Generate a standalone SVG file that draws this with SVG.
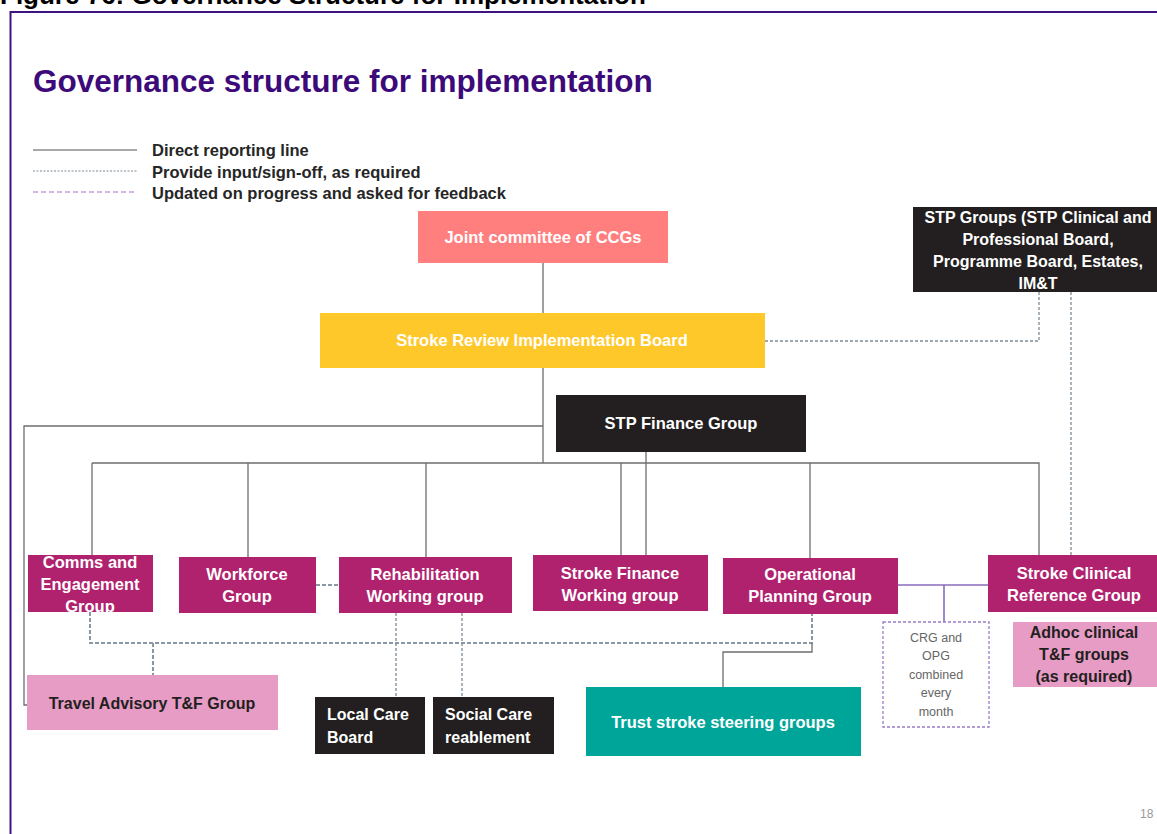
<svg xmlns="http://www.w3.org/2000/svg" width="1157" height="834" viewBox="0 0 1157 834">
<style>
  .t { font-family: "Liberation Sans", Arial, sans-serif; font-weight: bold; font-size: 16.5px; fill: #ffffff; text-anchor: middle; }
  .tl { font-family: "Liberation Sans", Arial, sans-serif; font-weight: bold; font-size: 16px; fill: #ffffff; text-anchor: start; }
  .td { font-family: "Liberation Sans", Arial, sans-serif; font-weight: bold; font-size: 16px; fill: #231f20; text-anchor: middle; }
  .leg { font-family: "Liberation Sans", Arial, sans-serif; font-weight: bold; font-size: 16.5px; fill: #262626; }
  .mag { fill: #b0226e; }
  .pink { fill: #e79cc5; }
  .blk { fill: #231f20; }
  .solid { stroke: #6d6d6d; stroke-width: 1.3; fill: none; }
  .dash { stroke: #7d8a96; stroke-width: 1.3; fill: none; stroke-dasharray: 3 2; }
  .dashb { stroke: #8a97a4; stroke-width: 2; fill: none; stroke-dasharray: 4 2; }
  .purp { stroke: #8a6bbd; stroke-width: 1.6; fill: none; }
</style>
<rect x="0" y="0" width="1157" height="834" fill="#ffffff"/>
<text x="0" y="4" font-family="Liberation Sans, Arial, sans-serif" font-weight="bold" font-size="26" fill="#000000">Figure 76: Governance Structure for Implementation</text>
<rect x="10.5" y="12" width="1200" height="900" fill="none" stroke="#3c1380" stroke-width="2"/>
<text x="33" y="92" font-family="Liberation Sans, Arial, sans-serif" font-weight="bold" font-size="31.5" fill="#3d0a7a">Governance structure for implementation</text>

<g id="legend">
  <line x1="33" y1="150" x2="137" y2="150" stroke="#555" stroke-width="1.2"/>
  <line x1="33" y1="171" x2="137" y2="171" stroke="#7d8a96" stroke-width="1.2" stroke-dasharray="2 1.5"/>
  <line x1="33" y1="192" x2="137" y2="192" stroke="#c3a0e0" stroke-width="1.3" stroke-dasharray="5 3"/>
  <text class="leg" x="152" y="156">Direct reporting line</text>
  <text class="leg" x="152" y="178">Provide input/sign-off, as required</text>
  <text class="leg" x="152" y="199">Updated on progress and asked for feedback</text>
</g>

<g id="connectors">
  <path class="solid" d="M543,263 V313"/>
  <path class="solid" d="M543,368 V463"/>
  <path class="solid" d="M543,426 H24 V705 H27"/>
  <path class="solid" d="M92,463 H1039 V555"/>
  <path class="solid" d="M92,463 V555"/>
  <path class="solid" d="M248,463 V557"/>
  <path class="solid" d="M426,463 V557"/>
  <path class="solid" d="M621,463 V555"/>
  <path class="solid" d="M646,452 V555"/>
  <path class="solid" d="M810,463 V558"/>
  <path class="dash" d="M765,341 H1039 V292"/>
  <path class="dash" d="M1071,292 V555"/>
  <path class="dashb" d="M316,585 H339"/>
  <path class="dashb" d="M90,612 V643 H812 V614"/>
  <path class="dashb" d="M153,643 V675"/>
  <path class="dash" d="M396,613 V697"/>
  <path class="dash" d="M462,613 V697"/>
  <path class="solid" d="M812,643 V652 H723 V687"/>
  <path class="purp" d="M898,585 H988"/>
  <path class="purp" d="M944,585 V622"/>
</g>

<g id="joint">
  <rect x="418" y="211" width="250" height="52" fill="#ff7f7f"/>
  <text class="t" x="543" y="243">Joint committee of CCGs</text>
</g>
<g id="srib">
  <rect x="320" y="313" width="445" height="55" fill="#ffc82a"/>
  <text class="t" x="542" y="346">Stroke Review Implementation Board</text>
</g>
<g id="stpgroups">
  <rect x="913" y="207" width="250" height="85" class="blk"/>
  <g style="font-size:16px">
  <text class="t" x="1038" y="223" style="font-size:16px">STP Groups (STP Clinical and</text>
  <text class="t" x="1038" y="245" style="font-size:16px">Professional Board,</text>
  <text class="t" x="1038" y="267" style="font-size:16px">Programme Board, Estates,</text>
  <text class="t" x="1038" y="289" style="font-size:16px">IM&amp;T</text>
  </g>
</g>
<g id="stpfinance">
  <rect x="556" y="395" width="250" height="57" class="blk"/>
  <text class="t" x="681" y="429">STP Finance Group</text>
</g>
<g id="comms">
  <rect x="28" y="555" width="125" height="57" class="mag"/>
  <text class="t" x="90" y="568">Comms and</text>
  <text class="t" x="90" y="590">Engagement</text>
  <text class="t" x="90" y="612">Group</text>
</g>
<g id="workforce">
  <rect x="179" y="557" width="137" height="56" class="mag"/>
  <text class="t" x="247" y="580">Workforce</text>
  <text class="t" x="247" y="602">Group</text>
</g>
<g id="rehab">
  <rect x="339" y="557" width="173" height="56" class="mag"/>
  <text class="t" x="425" y="580">Rehabilitation</text>
  <text class="t" x="425" y="602">Working group</text>
</g>
<g id="strokefinance">
  <rect x="533" y="555" width="175" height="56" class="mag"/>
  <text class="t" x="620" y="579">Stroke Finance</text>
  <text class="t" x="620" y="601">Working group</text>
</g>
<g id="operational">
  <rect x="723" y="558" width="175" height="56" class="mag"/>
  <text class="t" x="810" y="580">Operational</text>
  <text class="t" x="810" y="602">Planning Group</text>
</g>
<g id="crg">
  <rect x="988" y="555" width="175" height="57" class="mag"/>
  <text class="t" x="1074" y="579">Stroke Clinical</text>
  <text class="t" x="1074" y="601">Reference Group</text>
</g>
<g id="adhoc">
  <rect x="1013" y="622" width="150" height="65" class="pink"/>
  <text class="td" x="1084" y="638">Adhoc clinical</text>
  <text class="td" x="1084" y="660">T&amp;F groups</text>
  <text class="td" x="1084" y="682">(as required)</text>
</g>
<g id="combined">
  <rect x="883" y="622" width="106" height="105" fill="none" stroke="#9a7cc8" stroke-width="1.3" stroke-dasharray="3 2"/>
  <g font-family="Liberation Sans, Arial, sans-serif" font-size="12.5" fill="#666" text-anchor="middle">
    <text x="936" y="642">CRG and</text>
    <text x="936" y="660">OPG</text>
    <text x="936" y="679">combined</text>
    <text x="936" y="697">every</text>
    <text x="936" y="716">month</text>
  </g>
</g>
<g id="travel">
  <rect x="27" y="675" width="251" height="55" class="pink"/>
  <text class="td" x="152" y="709">Travel Advisory T&amp;F Group</text>
</g>
<g id="localcare">
  <rect x="315" y="697" width="110" height="57" class="blk"/>
  <text class="tl" x="327" y="720">Local Care</text>
  <text class="tl" x="327" y="743">Board</text>
</g>
<g id="socialcare">
  <rect x="433" y="697" width="121" height="57" class="blk"/>
  <text class="tl" x="445" y="720">Social Care</text>
  <text class="tl" x="445" y="743">reablement</text>
</g>
<g id="trust">
  <rect x="586" y="687" width="275" height="69" fill="#00a59a"/>
  <text class="t" x="723" y="728">Trust stroke steering groups</text>
</g>
<text x="1140" y="818" font-family="Liberation Sans, Arial, sans-serif" font-size="12" fill="#999">18</text>
</svg>
